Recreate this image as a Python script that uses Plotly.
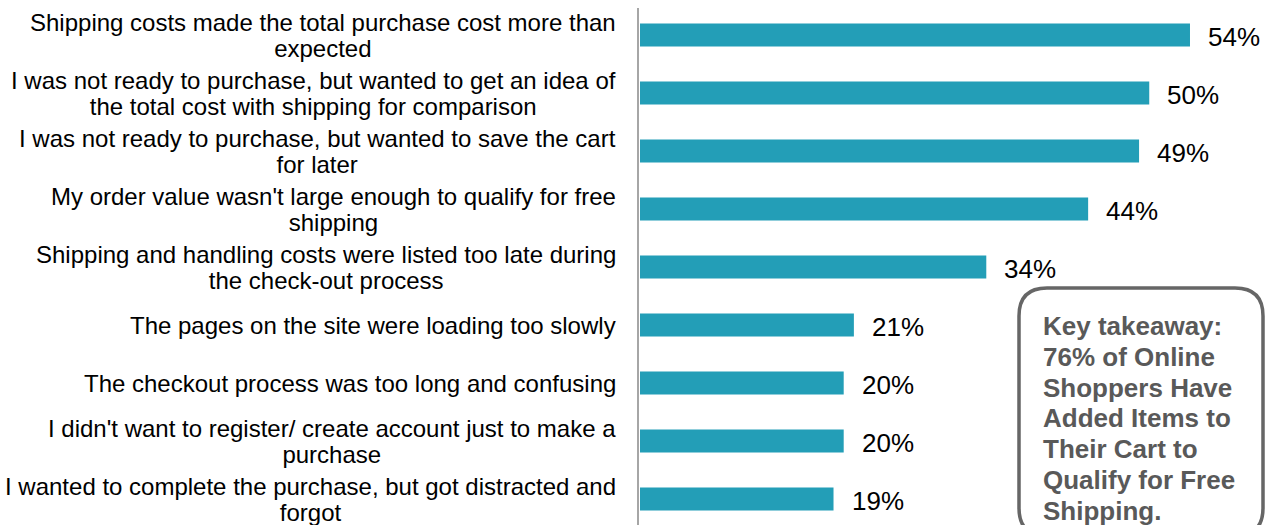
import plotly.graph_objects as go

# Reasons for abandoning a cart, top to bottom
reasons = [
    "Shipping costs made the total purchase cost more than<br>expected",
    "I was not ready to purchase, but wanted to get an idea of<br>the total cost with shipping for comparison",
    "I was not ready to purchase, but wanted to save the cart<br>for later",
    "My order value wasn't large enough to qualify for free<br>shipping",
    "Shipping and handling costs were listed too late during<br>the check-out process",
    "The pages on the site were loading too slowly",
    "The checkout process was too long and confusing",
    "I didn't want to register/ create account just to make a<br>purchase",
    "I wanted to complete the purchase, but got distracted and<br>forgot",
]
shares = [54, 50, 49, 44, 34, 21, 20, 20, 19]

takeaway = ("Key takeaway:<br>76% of Online<br>Shoppers Have<br>Added Items to<br>"
            "Their Cart to<br>Qualify for Free<br>Shipping.")

W, H = 1273, 525
FONT = "Liberation Sans, Arial, sans-serif"
BAR = "#239EB7"


def px(x):
    return x / W


def py(y):
    return 1 - y / H


def sized(text, size):
    # glyph size set per line; the annotation font size sets the line pitch
    return "<br>".join(f'<span style="font-size:{size}px">{t}</span>'
                       for t in text.split("<br>"))


rows = list(range(len(reasons)))

fig = go.Figure(go.Bar(
    x=shares, y=rows, orientation="h",
    marker=dict(color=BAR, line=dict(width=0)),
    width=0.4, hoverinfo="skip",
))

annotations = []
for i, r in enumerate(reasons):
    annotations.append(dict(
        x=px(618), xref="paper", y=i, yref="y", text=sized(r, 24), showarrow=False,
        xanchor="right", yanchor="middle", align="center",
        font=dict(family=FONT, size=20, color="#000000"),
    ))

for i, v in enumerate(shares):
    annotations.append(dict(
        x=v, xref="x", y=i, yref="y", text=f"{v}%", showarrow=False,
        xanchor="left", yanchor="middle", xshift=16, yshift=-2,
        font=dict(family=FONT, size=26, color="#000000"),
    ))

annotations.append(dict(
    x=px(1041), y=py(309), xref="paper", yref="paper", text=sized(takeaway, 26),
    showarrow=False, xanchor="left", yanchor="top", align="left",
    font=dict(family=FONT, size=23.7, color="#595959", weight="bold"),
))

# rounded takeaway box
x0, x1, y0, y1, r = px(1019), px(1263), py(288), py(536), 28
rx, ry = r / W, r / H
box = (f"M {x0 + rx} {y0} L {x1 - rx} {y0} Q {x1} {y0} {x1} {y0 - ry} "
       f"L {x1} {y1 + ry} Q {x1} {y1} {x1 - rx} {y1} "
       f"L {x0 + rx} {y1} Q {x0} {y1} {x0} {y1 + ry} "
       f"L {x0} {y0 - ry} Q {x0} {y0} {x0 + rx} {y0} Z")

shapes = [
    dict(type="line", xref="paper", yref="paper", x0=px(638), x1=px(638),
         y0=py(8), y1=0, line=dict(color="#A6A6A6", width=2)),
    dict(type="path", xref="paper", yref="paper", path=box,
         line=dict(color="#666666", width=3.5), fillcolor="rgba(255,255,255,0)"),
]

fig.update_layout(
    width=W, height=H, margin=dict(l=0, r=0, t=0, b=0),
    plot_bgcolor="white", paper_bgcolor="white", showlegend=False,
    xaxis=dict(domain=[px(640), 1], range=[0, (W - 640) / 10.185],
               visible=False, fixedrange=True),
    yaxis=dict(domain=[0, py(6)], range=[519 / 58 - 0.5, -0.5],
               visible=False, fixedrange=True),
    annotations=annotations, shapes=shapes,
)

fig.write_html("out.html")
